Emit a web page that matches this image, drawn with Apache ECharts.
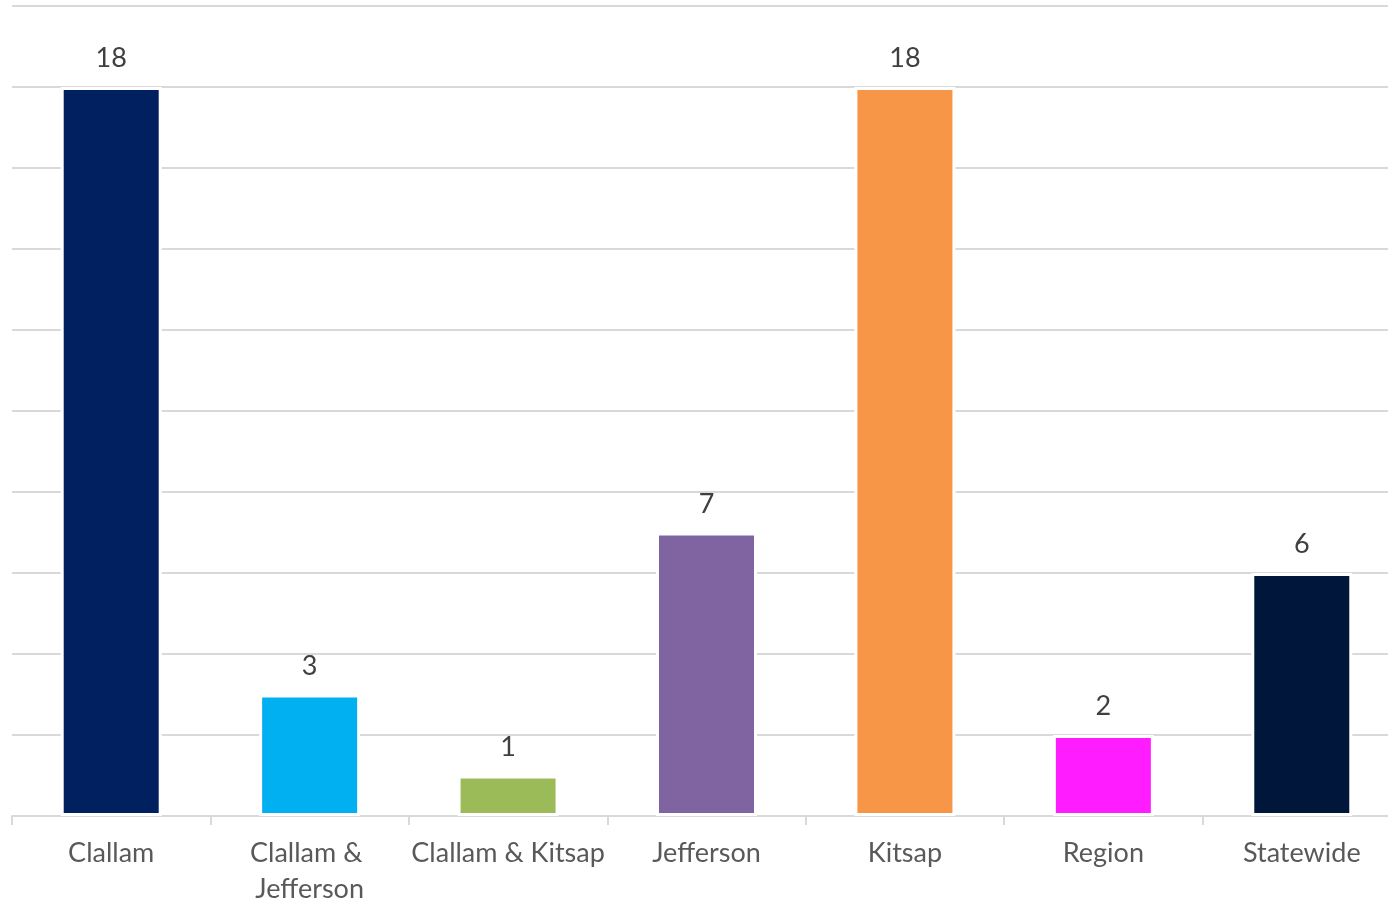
<!DOCTYPE html>
<html>
<head>
<meta charset="utf-8">
<script src="https://cdn.jsdelivr.net/npm/echarts@6/dist/echarts.min.js"></script>
<style>
  html, body { margin: 0; padding: 0; background: #ffffff; }
  #chart { width: 1388px; height: 902px; }
</style>
</head>
<body>
<div id="chart"></div>
<script>
// categories and counts
const categories = ["Clallam", "Clallam & Jefferson", "Clallam & Kitsap", "Jefferson", "Kitsap", "Region", "Statewide"];
const counts = [18, 3, 1, 7, 18, 2, 6];
const barColors = ["#002060", "#00B0F0", "#9BBB59", "#8064A2", "#F79646", "#FF1DFF", "#00163A"];

const chart = echarts.init(document.getElementById("chart"));

const option = {
    backgroundColor: "#ffffff",
    animation: false,
    grid: {
        left: 12, right: -13, top: 6, bottom: 86,
        containLabel: false,
        outerBoundsMode: "none",
    },
    xAxis: {
        type: "category",
        data: categories,
        axisLine: { lineStyle: { color: "#d9d9d9", width: 2 } },
        axisTick: { show: true, length: 9, lineStyle: { color: "#d9d9d9", width: 2 } },
        axisLabel: {
            color: "#595959",
            fontFamily: "Lato",
            fontSize: 27,
            lineHeight: 36,
            margin: 19,
            interval: 0,
            width: 196,
            overflow: "break",
        },
    },
    yAxis: {
        type: "value",
        min: 0,
        max: 20,
        interval: 2,
        axisLabel: { show: false },
        axisLine: { show: false },
        axisTick: { show: false },
        splitLine: { lineStyle: { color: "#d9d9d9", width: 2 } },
    },
    series: [
        {
            type: "bar",
            barWidth: 101,
            data: counts.map((v, i) => ({
                value: v,
                itemStyle: { color: barColors[i] },
            })),
            itemStyle: { borderColor: "#ffffff", borderWidth: 3 },
            label: {
                show: true,
                position: "top",
                distance: 15,
                color: "#404040",
                fontFamily: "Lato",
                fontSize: 27,
            },
        },
    ],
};

chart.setOption(option);
</script>
</body>
</html>
